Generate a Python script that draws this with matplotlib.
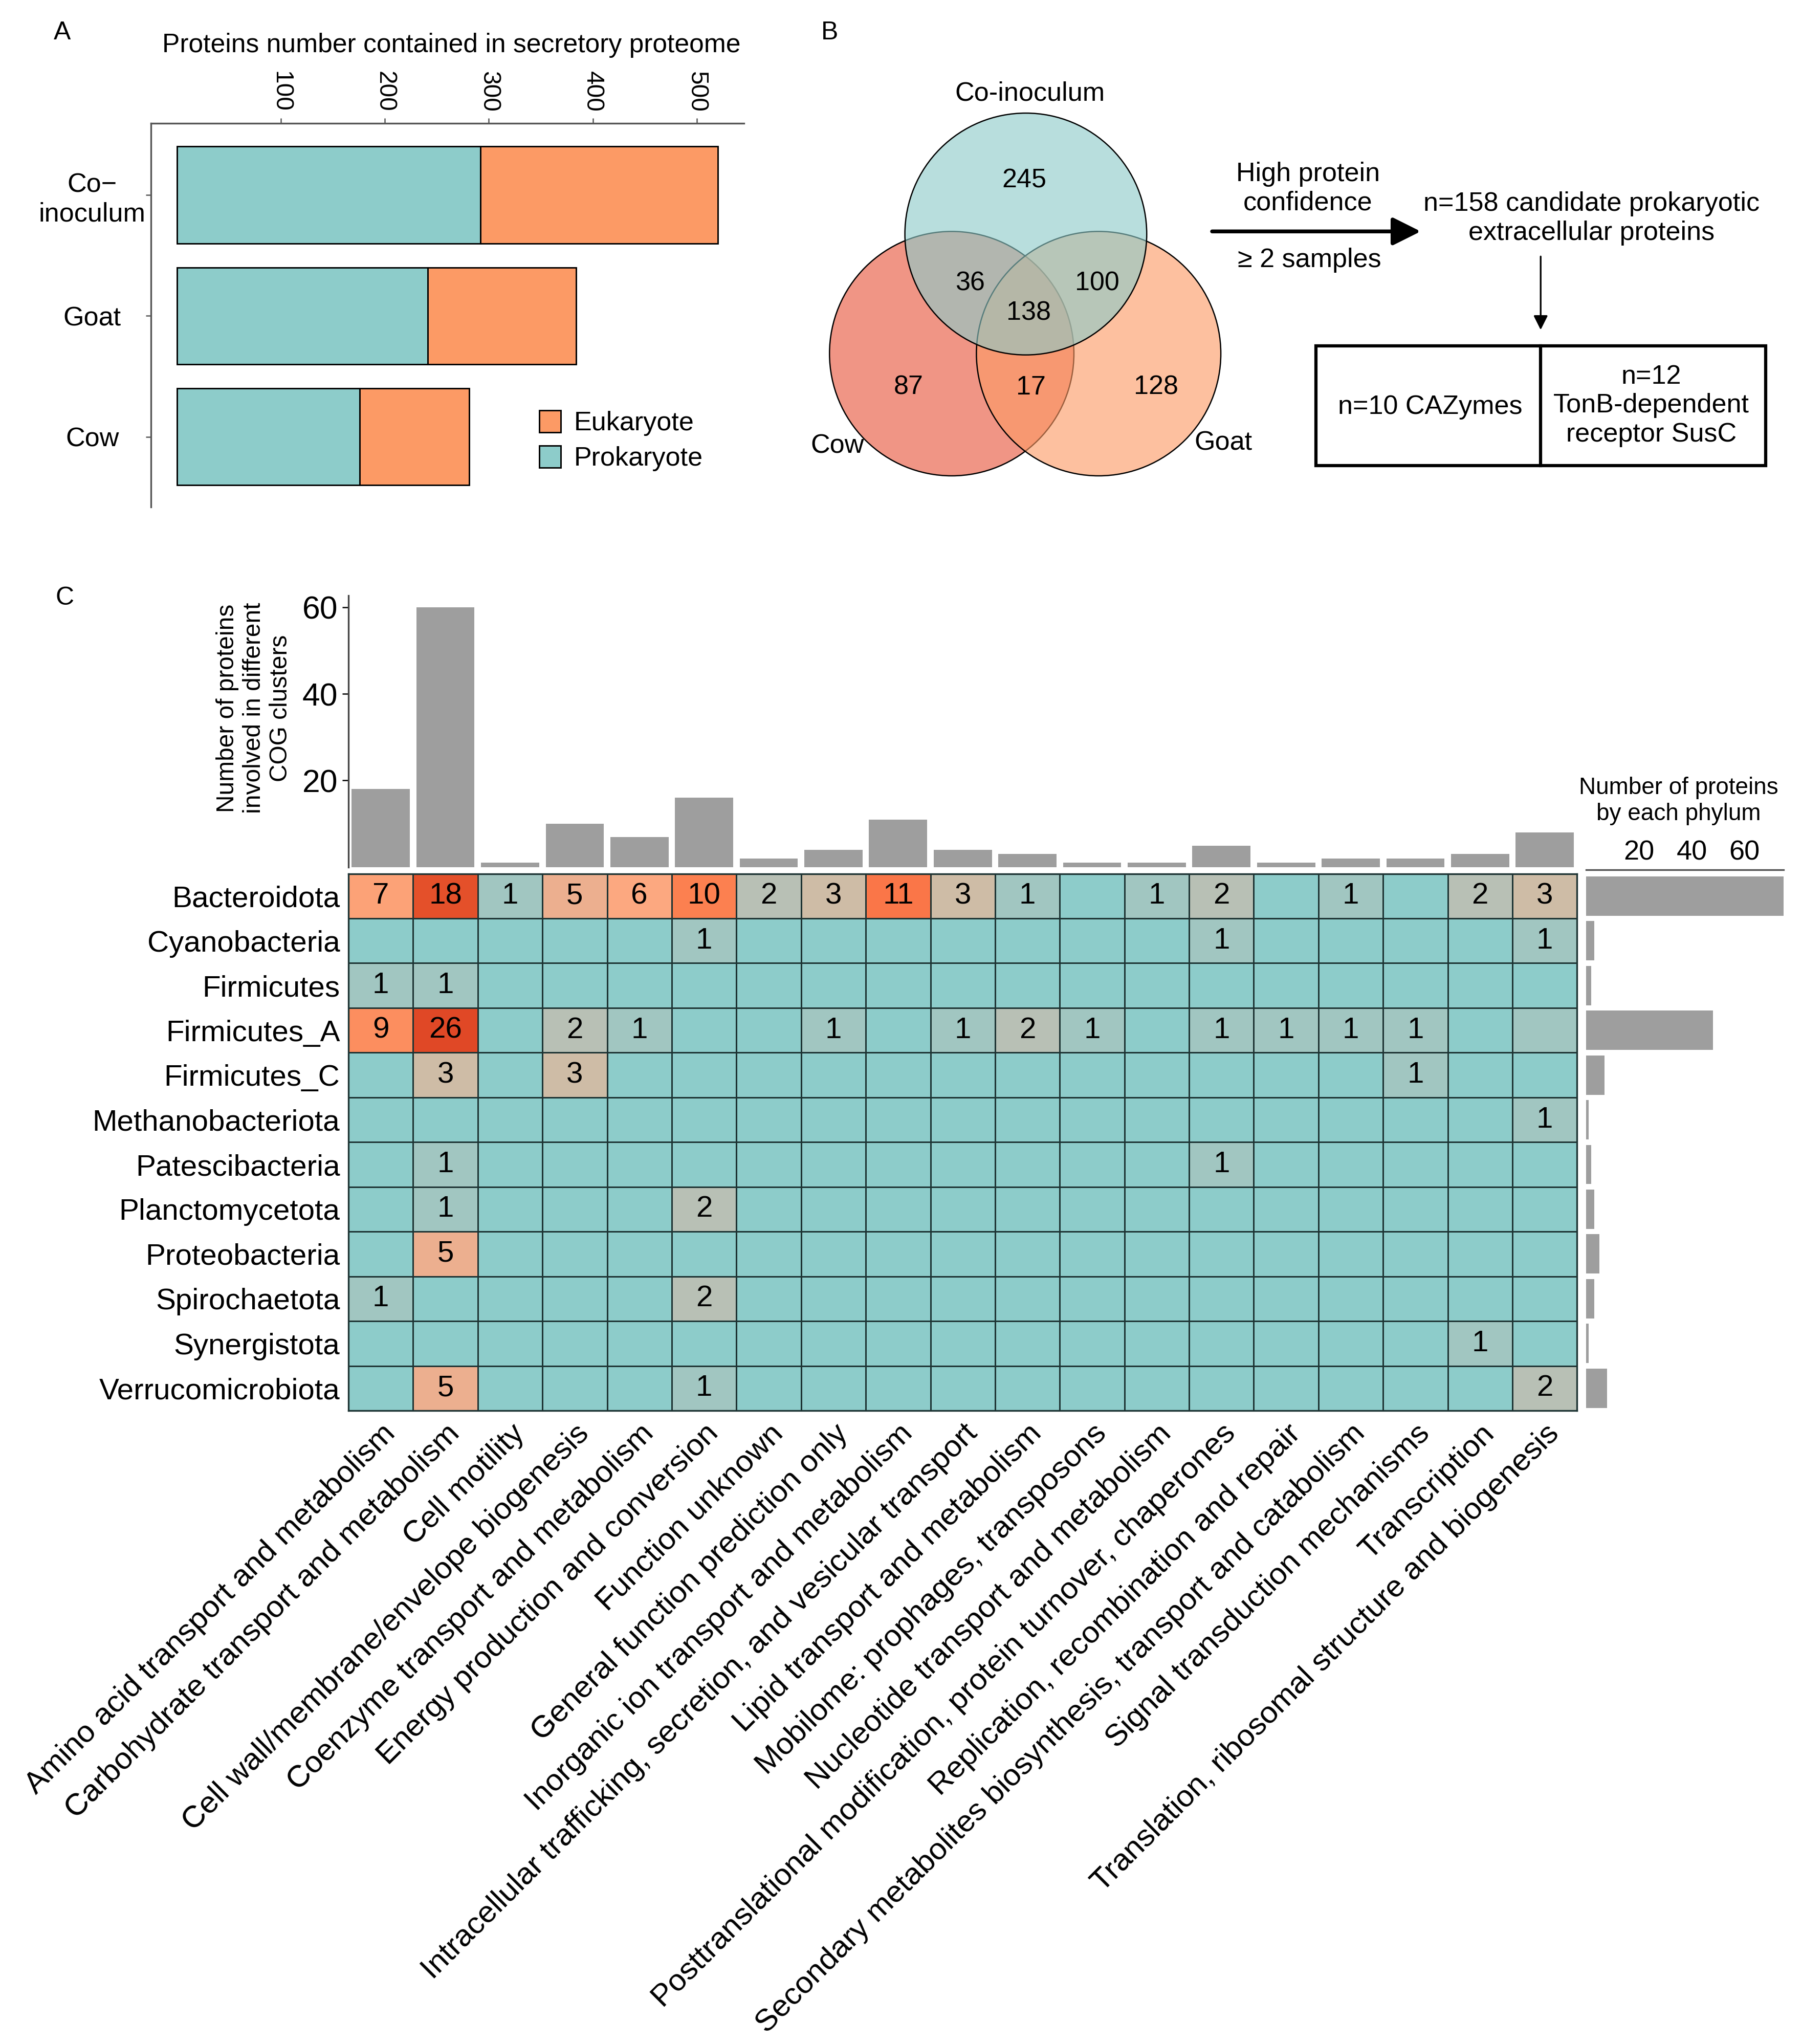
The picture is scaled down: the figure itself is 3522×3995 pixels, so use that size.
import numpy as np
import matplotlib
matplotlib.use("Agg")
import matplotlib.pyplot as plt
from matplotlib.colors import LinearSegmentedColormap, Normalize
from matplotlib.patches import Circle, Rectangle

plt.rcParams['font.family'] = ['Liberation Sans', 'DejaVu Sans']

# ---- panel A data ----
samples = ['Co\u2212\ninoculum', 'Goat', 'Cow']
prokaryote = [292, 241, 176]
eukaryote = [228, 143, 105]

# ---- panel B data ----
venn_sets = ['Co-inoculum', 'Cow', 'Goat']
venn_counts = [245, 36, 100, 138, 87, 17, 128]  # Co only, Co&Cow, Co&Goat, all, Cow only, Cow&Goat, Goat only

# ---- panel C data ----
phyla = ['Bacteroidota', 'Cyanobacteria', 'Firmicutes', 'Firmicutes_A', 'Firmicutes_C',
         'Methanobacteriota', 'Patescibacteria', 'Planctomycetota', 'Proteobacteria',
         'Spirochaetota', 'Synergistota', 'Verrucomicrobiota']
cogs = ['Amino acid transport and metabolism',
        'Carbohydrate transport and metabolism',
        'Cell motility',
        'Cell wall/membrane/envelope biogenesis',
        'Coenzyme transport and metabolism',
        'Energy production and conversion',
        'Function unknown',
        'General function prediction only',
        'Inorganic ion transport and metabolism',
        'Intracellular trafficking, secretion, and vesicular transport',
        'Lipid transport and metabolism',
        'Mobilome: prophages, transposons',
        'Nucleotide transport and metabolism',
        'Posttranslational modification, protein turnover, chaperones',
        'Replication, recombination and repair',
        'Secondary metabolites biosynthesis, transport and catabolism',
        'Signal transduction mechanisms',
        'Transcription',
        'Translation, ribosomal structure and biogenesis']
counts = np.array([
    [7, 18, 1, 5, 6, 10, 2, 3, 11, 3, 1, 0, 1, 2, 0, 1, 0, 2, 3],
    [0, 0, 0, 0, 0, 1, 0, 0, 0, 0, 0, 0, 0, 1, 0, 0, 0, 0, 1],
    [1, 1, 0, 0, 0, 0, 0, 0, 0, 0, 0, 0, 0, 0, 0, 0, 0, 0, 0],
    [9, 26, 0, 2, 1, 0, 0, 1, 0, 1, 2, 1, 0, 1, 1, 1, 1, 0, 1],
    [0, 3, 0, 3, 0, 0, 0, 0, 0, 0, 0, 0, 0, 0, 0, 0, 1, 0, 0],
    [0, 0, 0, 0, 0, 0, 0, 0, 0, 0, 0, 0, 0, 0, 0, 0, 0, 0, 1],
    [0, 1, 0, 0, 0, 0, 0, 0, 0, 0, 0, 0, 0, 1, 0, 0, 0, 0, 0],
    [0, 1, 0, 0, 0, 2, 0, 0, 0, 0, 0, 0, 0, 0, 0, 0, 0, 0, 0],
    [0, 5, 0, 0, 0, 0, 0, 0, 0, 0, 0, 0, 0, 0, 0, 0, 0, 0, 0],
    [1, 0, 0, 0, 0, 2, 0, 0, 0, 0, 0, 0, 0, 0, 0, 0, 0, 0, 0],
    [0, 0, 0, 0, 0, 0, 0, 0, 0, 0, 0, 0, 0, 0, 0, 0, 0, 1, 0],
    [0, 5, 0, 0, 0, 1, 0, 0, 0, 0, 0, 0, 0, 0, 0, 0, 0, 0, 2],
])
unlabeled = {(3, 18)}  # cell coloured but printed without a number in the original

TEAL = '#8DCCCA'
ORANGE = '#FC9A65'
GREY = '#9E9E9E'

# layout helpers: work in the 1386 x 1572 "screen" grid of the reference
W, H = 1386.0, 1572.2
def rect(x0, y0, x1, y1):
    return [x0 / W, 1 - y1 / H, (x1 - x0) / W, (y1 - y0) / H]

fig = plt.figure(figsize=(3522 / 300, 3995 / 300), dpi=300)

# overlay for free text / venn / flow diagram
ov = fig.add_axes([0, 0, 1, 1])
ov.set_xlim(0, W)
ov.set_ylim(H, 0)
ov.axis('off')

for lab, (x, y) in zip(['A', 'B', 'C'], [(48, 25), (638, 25), (50, 460)]):
    ov.text(x, y, lab, fontsize=12, ha='center', va='center')

# ================= Panel A =================
axA = fig.add_axes(rect(116, 95, 572, 390))
ypos = np.arange(len(samples))
axA.barh(ypos, prokaryote, height=0.8, color=TEAL, edgecolor='black', linewidth=0.7, label='Prokaryote')
axA.barh(ypos, eukaryote, left=prokaryote, height=0.8, color=ORANGE, edgecolor='black',
         linewidth=0.7, label='Eukaryote')
axA.set_xlim(-25, 545)
axA.set_ylim(2.58, -0.59)
axA.xaxis.tick_top()
axA.set_xticks([100, 200, 300, 400, 500])
axA.set_xticklabels(['100', '200', '300', '400', '500'], rotation=-90, fontsize=11.5)
axA.set_yticks(ypos)
axA.set_yticklabels(samples, fontsize=12.5, ha='center', multialignment='center')
axA.tick_params(axis='x', length=2.5, width=0.6, color='#555555', pad=3)
axA.tick_params(axis='y', length=2.5, width=0.6, color='#555555', pad=25)
for s in ['right', 'bottom']:
    axA.spines[s].set_visible(False)
for s in ['top', 'left']:
    axA.spines[s].set_color('#555555')
    axA.spines[s].set_linewidth(0.8)
h, l = axA.get_legend_handles_labels()
axA.legend(h[::-1], l[::-1], loc='upper left', bbox_to_anchor=(0.615, 0.315), frameon=False,
           fontsize=12.5, handlelength=0.8, handleheight=0.9, handletextpad=0.5, labelspacing=0.35)
ov.text(347, 35, 'Proteins number contained in secretory proteome', fontsize=12.4,
        ha='center', va='center')

# ================= Panel B =================
venn_circles = [((732, 272), 94, '#E8553A'),   # Cow
                ((845, 272), 94, '#FC9A65'),   # Goat
                ((789, 180), 93, '#8DCBC9')]   # Co-inoculum
for (c, r, col) in venn_circles:
    ov.add_patch(Circle(c, r, facecolor=matplotlib.colors.to_rgba(col, 0.62),
                        edgecolor='black', linewidth=0.6))
venn_pos = [(788, 139), (746, 218), (844, 218), (791, 241), (699, 298), (793, 298), (889, 298)]
for n, (x, y) in zip(venn_counts, venn_pos):
    ov.text(x, y, str(n), fontsize=12.5, ha='center', va='center')
for name, (x, y) in zip(venn_sets, [(792, 72), (644, 343), (941, 341)]):
    ov.text(x, y, name, fontsize=12.5, ha='center', va='center')

ov.annotate('', xy=(1096, 178), xytext=(929, 178),
            arrowprops=dict(arrowstyle='-|>', lw=1.8, color='black', mutation_scale=28))
ov.text(1006, 145, 'High protein\nconfidence', fontsize=12.5, ha='center', va='center', linespacing=1.2)
ov.text(1007, 200, '\u2265 2 samples', fontsize=12.5, ha='center', va='center')
ov.text(1224, 168, 'n=158 candidate prokaryotic\nextracellular proteins', fontsize=12.5,
        ha='center', va='center', linespacing=1.2)
ov.annotate('', xy=(1185, 257), xytext=(1185, 194),
            arrowprops=dict(arrowstyle='-|>', lw=0.8, color='black', mutation_scale=14))
ov.add_patch(Rectangle((1012, 266), 346, 92, fill=False, edgecolor='black', linewidth=1.5))
ov.plot([1185, 1185], [266, 358], color='black', linewidth=1.5)
ov.text(1100, 313, 'n=10 CAZymes', fontsize=12.5, ha='center', va='center')
ov.text(1270, 312, 'n=12\nTonB-dependent\nreceptor SusC', fontsize=12.5, ha='center', va='center',
        linespacing=1.2)

# ================= Panel C =================
col_tot = counts.sum(axis=0)
row_tot = counts.sum(axis=1)
ncol, nrow = len(cogs), len(phyla)

# top marginal bars
axT = fig.add_axes(rect(268, 458, 1213, 667))
axT.bar(np.arange(ncol), col_tot, width=0.9, color=GREY)
axT.set_xlim(-0.5, ncol - 0.5)
axT.set_ylim(0, 62.7)
axT.set_xticks([])
axT.set_yticks([20, 40, 60])
axT.tick_params(axis='y', labelsize=15, length=3, width=0.6, pad=2)
for s in ['top', 'right', 'bottom']:
    axT.spines[s].set_visible(False)
axT.spines['left'].set_color('#444444')
axT.spines['left'].set_linewidth(0.8)
axT.set_ylabel('Number of proteins\ninvolved in different\nCOG clusters', fontsize=11.5, linespacing=1.2)
axT.yaxis.set_label_coords(-0.046, 0.585)

# heatmap
cmap_vals = [0, 1, 2, 3, 5, 6, 7, 9, 10, 11, 18, 26]
cmap_cols = ['#8DCCCA', '#A3C6C0', '#B9C0B4', '#CFBCA5', '#ECAF8F', '#FCA880',
             '#FCA276', '#FC8E5F', '#FC8050', '#FA7648', '#E4502A', '#E04826']
heat_cmap = LinearSegmentedColormap.from_list(
    'cog', list(zip([v / 26 for v in cmap_vals], cmap_cols)))

axH = fig.add_axes(rect(268, 672, 1213, 1085))
axH.pcolormesh(np.arange(ncol + 1) - 0.5, np.arange(nrow + 1) - 0.5, counts,
               cmap=heat_cmap, norm=Normalize(0, 26), edgecolors='#1d3333', linewidth=0.7)
axH.set_xlim(-0.5, ncol - 0.5)
axH.set_ylim(nrow - 0.5, -0.5)
for i in range(nrow):
    for j in range(ncol):
        v = counts[i, j]
        if v > 0 and (i, j) not in unlabeled:
            axH.text(j, i, str(v), fontsize=14, ha='center', va='center')
axH.set_yticks(np.arange(nrow))
axH.set_yticklabels(phyla, fontsize=14)
axH.set_xticks(np.arange(ncol))
axH.set_xticklabels(cogs, fontsize=14.5, rotation=45, ha='right', rotation_mode='anchor')
axH.tick_params(axis='both', length=0, pad=4)
for s in axH.spines.values():
    s.set_color('#1d3333')
    s.set_linewidth(0.8)

# right marginal bars
axR = fig.add_axes(rect(1220, 669, 1372, 1085))
axR.barh(np.arange(nrow), row_tot, height=0.88, color=GREY)
axR.set_xlim(0, 74.9)
axR.set_ylim(nrow - 0.5, -0.587)
axR.xaxis.tick_top()
axR.set_xticks([20, 40, 60])
axR.set_yticks([])
axR.tick_params(axis='x', labelsize=13, length=0, pad=2)
for s in ['left', 'right', 'bottom']:
    axR.spines[s].set_visible(False)
axR.spines['top'].set_color('#555555')
axR.spines['top'].set_linewidth(0.8)
ov.text(1291, 616, 'Number of proteins\nby each phylum', fontsize=11, ha='center', va='center',
        linespacing=1.2)

fig.savefig('out.png', dpi=300)
